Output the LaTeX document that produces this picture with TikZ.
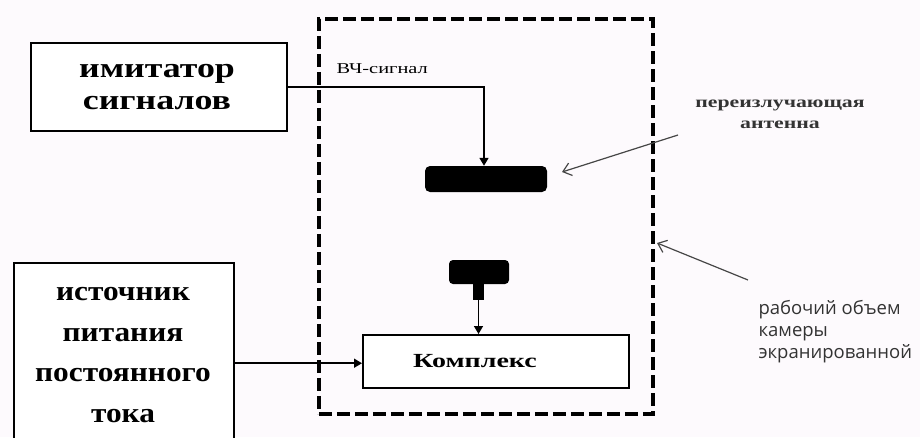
\documentclass[tikz,border=0pt]{standalone}
\usepackage{fontspec}
\setmainfont{Liberation Serif}
\newfontfamily\serifimit[FakeStretch=1.28]{Liberation Serif}
\newfontfamily\serifsrc[FakeStretch=1.12]{Liberation Serif}
\newfontfamily\serifkomp[FakeStretch=1.4]{Liberation Serif}
\newfontfamily\serifsmall[FakeStretch=1.36]{Liberation Serif}
\newfontfamily\annsans{Open Sans}
\usetikzlibrary{arrows.meta}
\definecolor{bgpink}{RGB}{253,250,253}
\definecolor{anngray}{RGB}{70,70,70}
\begin{document}
\begin{tikzpicture}[x=1pt,y=-1pt,
  blockbox/.style={draw=black, line width=2.4pt, fill=white, inner sep=0pt},
  antbox/.style={fill=black, rounded corners=5pt, inner sep=0pt},
  sigline/.style={line width=1.6pt, -{Triangle[length=8pt,width=9pt]}},
  annarrow/.style={draw=anngray, line width=1.2pt, -{Straight Barb[length=8pt,width=13pt,line width=1.2pt]}},
]
\fill[bgpink] (0,0) rectangle (920,437);
\useasboundingbox (0,0) rectangle (920,437);

% dashed chamber
\node[draw=black, line width=3.8pt, dash pattern=on 13pt off 5pt, minimum width=334pt, minimum height=395pt, anchor=north west, inner sep=0pt] (cham) at (317,17) {};

% signal simulator
\node[blockbox, minimum width=256pt, minimum height=88pt, anchor=north west] (imit) at (30,42) {};
\node[font=\serifimit\fontsize{28}{32}\selectfont\bfseries, align=center] (imittext) at (157,87) {имитатор\\сигналов};

% power source
\node[blockbox, minimum width=220pt, minimum height=200pt, anchor=north west] (src) at (13,262) {};
\node[font=\serifsrc\fontsize{28}{40.5}\selectfont\bfseries, align=center] (srctext) at (123,355) {источник\\питания\\постоянного\\тока};

% complex
\node[blockbox, line width=2pt, minimum width=266pt, minimum height=53pt, anchor=north west] (komp) at (362,334) {};
\node[font=\serifkomp\fontsize{20}{24}\selectfont\bfseries] (komptext) at (475,361) {Комплекс};

% antennas
\node[antbox, minimum width=122pt, minimum height=26pt] (ant1) at (486,179) {};
\node[antbox, rounded corners=4pt, minimum width=60pt, minimum height=24pt] (ant2) at (479,272) {};
\node[fill=black, inner sep=0pt, minimum width=11pt, minimum height=17pt, anchor=north] (stub) at (478.5,283) {};

% connectors
\draw[sigline] (imit.east) -| (ant1.north -| 484,0);
\node[font=\serifsmall\fontsize{15}{17}\selectfont, anchor=west] (vch) at (333,69) {ВЧ-сигнал};
\draw[sigline] (stub.south) -- (komp.north -| stub.south);
\draw[sigline] (src.east) -- (komp.west |- src.east);

% annotations
\node[font=\serifsmall\fontsize{16}{21}\selectfont\bfseries, align=center, text=black!80] (antlab) at (780,114) {переизлучающая\\антенна};
\coordinate (antarrtail) at (678,135);
\coordinate (antarrtip) at (562,172);
\draw[annarrow] (antarrtail) -- (antarrtip);
\node[font=\annsans\fontsize{18.5}{22}\selectfont, align=left, anchor=north west, text=black!80] (chamlab) at (755,297) {рабочий объем\\камеры\\экранированной};
\coordinate (chamarrtail) at (748,280);
\coordinate (chamarrtip) at (657,243);
\draw[annarrow] (chamarrtail) -- (chamarrtip);
\end{tikzpicture}
\end{document}
